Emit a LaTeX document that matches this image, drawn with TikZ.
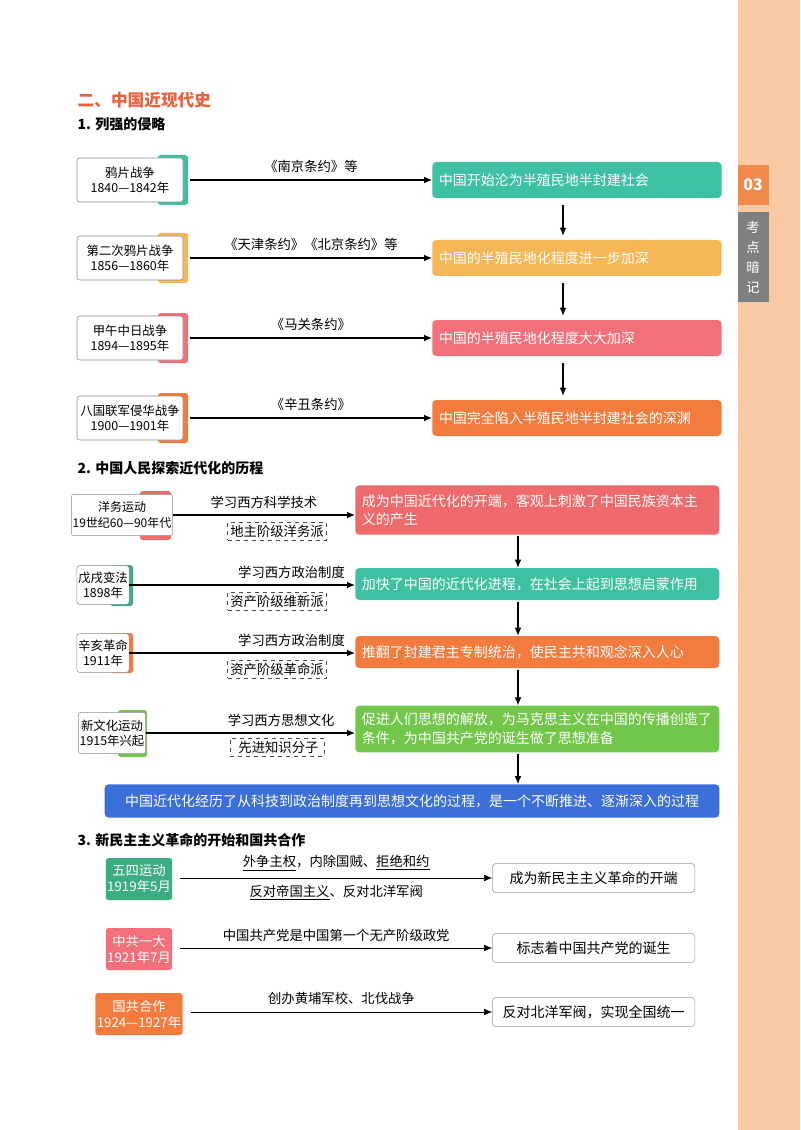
\documentclass[tikz,border=0pt]{standalone}
\usepackage{fontspec}
\setmainfont{Noto Sans CJK SC}
\usetikzlibrary{positioning,arrows.meta}
\definecolor{cteal}{HTML}{3EC1A2}
\definecolor{cyel}{HTML}{F5B655}
\definecolor{cpink}{HTML}{F1707A}
\definecolor{corng}{HTML}{F47B3E}
\definecolor{cred}{HTML}{EF6A6B}
\definecolor{cgreen}{HTML}{72C74A}
\definecolor{cblue}{HTML}{3D6FD9}
\definecolor{cteald}{HTML}{3BAE80}
\definecolor{cband}{HTML}{F8C9A2}
\definecolor{ctab}{HTML}{F08A4B}
\definecolor{ctitle}{HTML}{E8603C}
\tikzset{
  event/.style={draw=black!45,fill=white,rounded corners=2pt,align=center,font=\fontsize{9.3}{11.5}\selectfont,inner sep=1pt},
  result/.style={rounded corners=3pt,text=white,align=left,font=\fontsize{10.5}{14}\selectfont,anchor=west,inner xsep=5pt},
  answer/.style={draw=black!40,rounded corners=3pt,fill=white,font=\fontsize{10.5}{12}\selectfont,anchor=west,inner xsep=6pt},
  tag/.style={rounded corners=2pt,text=white,align=center,font=\fontsize{10}{12}\selectfont,minimum width=47pt,minimum height=31.5pt,inner xsep=1pt},
  way/.style={draw=black!70,dashed,font=\fontsize{10}{12}\selectfont,inner sep=2pt},
  lbl/.style={font=\fontsize{10}{12}\selectfont},
  link/.style={-{Latex[length=6pt,width=5pt]},thick},
  head/.style={font=\fontsize{10.5}{12}\selectfont\bfseries,anchor=west}
}
\begin{document}
\begin{tikzpicture}[x=0.75pt,y=-0.75pt]
  \useasboundingbox (0,0) rectangle (800,1130);
  % side band
  \fill[cband] (738,0) rectangle (800,1130);
  \fill[ctab] (738,165) rectangle (769,205);
  \fill[black!50] (738,212) rectangle (769,302);
  \node (tabnum) at (753,185) [text=white,font=\fontsize{12}{12}\selectfont\bfseries] {03};
  \node (tabtxt) at (753,257) [text=white,align=center,font=\fontsize{10}{15}\selectfont] {考\\点\\暗\\记};

  \node (title) at (73,100) [head,text=ctitle,font=\fontsize{12.5}{14}\selectfont\bfseries] {二、中国近现代史};
  \node (sec1) at (73,124) [head] {1. 列强的侵略};

  % part 1
  \foreach \y/\c in {180/cteal,258/cyel,338/cpink,418/corng}
    \fill[\c,rounded corners=2pt] (158,\y-25) rectangle (188,\y+25);
  \node (w1) at (130,180) [event,minimum width=79.5pt,minimum height=33pt] {鸦片战争\\1840—1842年};
  \node (w2) at (130,258) [event,minimum width=79.5pt,minimum height=33pt] {第二次鸦片战争\\1856—1860年};
  \node (w3) at (130,338) [event,minimum width=79.5pt,minimum height=33pt] {甲午中日战争\\1894—1895年};
  \node (w4) at (130,418) [event,minimum width=79.5pt,minimum height=33pt] {八国联军侵华战争\\1900—1901年};

  \node (s1) at (432,180) [result,fill=cteal,text width=207pt,minimum height=27pt] {中国开始沦为半殖民地半封建社会};
  \node (s2) at (432,258) [result,fill=cyel,text width=207pt,minimum height=27pt] {中国的半殖民地化程度进一步加深};
  \node (s3) at (432,338) [result,fill=cpink,text width=207pt,minimum height=27pt] {中国的半殖民地化程度大大加深};
  \node (s4) at (432,418) [result,fill=corng,text width=207pt,minimum height=27pt] {中国完全陷入半殖民地半封建社会的深渊};

  \draw[link] ([xshift=5pt]w1.east) -- node[lbl,above=2pt] {《南京条约》等} (s1.west);
  \draw[link] ([xshift=5pt]w2.east) -- node[lbl,above=2pt] {《天津条约》《北京条约》等} (s2.west);
  \draw[link] ([xshift=5pt]w3.east) -- node[lbl,above=2pt] {《马关条约》} (s3.west);
  \draw[link] ([xshift=5pt]w4.east) -- node[lbl,above=2pt] {《辛丑条约》} (s4.west);
  \foreach \a/\b in {s1/s2,s2/s3,s3/s4}
    \draw[link] ([yshift=-5pt]\a.south -| 563,0) -- ([yshift=3pt]\b.north -| 563,0);

  % part 2
  \node (sec2) at (73,468) [head] {2. 中国人民探索近代化的历程};
  \fill[cred,rounded corners=2pt] (140,491) rectangle (171,540);
  \fill[cteald,rounded corners=2pt] (110,565) rectangle (133,606);
  \fill[corng,rounded corners=2pt] (110,633) rectangle (133,673);
  \fill[cgreen,rounded corners=2pt] (118,710) rectangle (147,757);
  \node (m1) at (122,515) [event,minimum width=66pt,minimum height=31pt,font=\fontsize{9}{11.5}\selectfont] {洋务运动\\19世纪60—90年代};
  \node (m2) at (103,585) [event,minimum width=37pt,minimum height=29pt] {戊戌变法\\1898年};
  \node (m3) at (103,653) [event,minimum width=37pt,minimum height=29pt] {辛亥革命\\1911年};
  \node (m4) at (112,733) [event,minimum width=48pt,minimum height=31pt] {新文化运动\\1915年兴起};

  \node (e1) at (355,510) [result,fill=cred,text width=263pt,minimum height=37pt] {成为中国近代化的开端，客观上刺激了中国民族资本主\\义的产生};
  \node (e2) at (355,584) [result,fill=cteal,text width=263pt,minimum height=24pt] {加快了中国的近代化进程，在社会上起到思想启蒙作用};
  \node (e3) at (355,652) [result,fill=corng,text width=263pt,minimum height=24pt] {推翻了封建君主专制统治，使民主共和观念深入人心};
  \node (e4) at (355,729) [result,fill=cgreen,text width=263pt,minimum height=35pt] {促进人们思想的解放，为马克思主义在中国的传播创造了\\条件，为中国共产党的诞生做了思想准备};
  \node (sum) at (412,801) [result,anchor=center,fill=cblue,minimum width=461pt,minimum height=25pt] {中国近代化经历了从科技到政治制度再到思想文化的过程，是一个不断推进、逐渐深入的过程};

  \draw[link] (m1.east) -- node[lbl,above=1pt] {学习西方科学技术} (m1.east -| e1.west);
  \draw[link] (m2.east) -- node[lbl,above=1pt,xshift=37pt] {学习西方政治制度} (m2.east -| e2.west);
  \draw[link] (m3.east) -- node[lbl,above=1pt,xshift=37pt] {学习西方政治制度} (m3.east -| e3.west);
  \draw[link] (m4.east) -- node[lbl,above=1pt,xshift=23pt] {学习西方思想文化} (m4.east -| e4.west);
  \node (g1) at (277,531) [way] {地主阶级洋务派};
  \node (g2) at (277,601) [way] {资产阶级维新派};
  \node (g3) at (277,669) [way] {资产阶级革命派};
  \node (g4) at (277,747) [way] {\ \ 先进知识分子\ \ };
  \foreach \a/\b in {e1/e2,e2/e3,e3/e4,e4/sum}
    \draw[link] ([yshift=-1pt]\a.south -| 518,0) -- (\b.north -| 518,0);

  % part 3
  \node (sec3) at (73,840) [head] {3. 新民主主义革命的开始和国共合作};
  \node (n1) at (139,879) [tag,fill=cteald] {五四运动\\1919年5月};
  \node (n2) at (139,949) [tag,fill=cpink] {中共一大\\1921年7月};
  \node (n3) at (139,1014) [tag,fill=corng] {国共合作\\1924—1927年};
  \node (f1) at (492,878) [answer,minimum width=152pt,minimum height=22pt] {成为新民主主义革命的开端};
  \node (f2) at (492,948) [answer,minimum width=152pt,minimum height=22pt] {标志着中国共产党的诞生};
  \node (f3) at (492,1012) [answer,minimum width=152pt,minimum height=22pt] {反对北洋军阀，实现全国统一};
  \draw[link,thin] ([xshift=6pt]n1.east |- f1.west) -- node[lbl,above=2pt] {\underline{外争主权}，内除国贼、\underline{拒绝和约}}
                                                 node[lbl,below=2pt] {\underline{反对帝国主义}、反对北洋军阀} (f1.west);
  \draw[link,thin] ([xshift=6pt]n2.east |- f2.west) -- node[lbl,above=1pt] {中国共产党是中国第一个无产阶级政党} (f2.west);
  \draw[link,thin] ([xshift=6pt]n3.east |- f3.west) -- node[lbl,above=2pt] {创办黄埔军校、北伐战争} (f3.west);
\end{tikzpicture}
\end{document}
